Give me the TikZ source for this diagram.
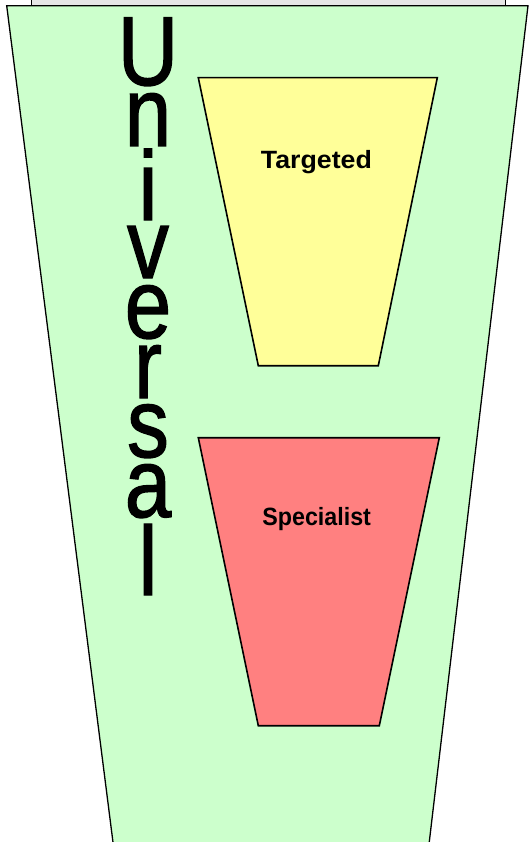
\documentclass[tikz,border=0pt]{standalone}
\usepackage{fontspec}
\setmainfont{Liberation Sans}
\font\univfont="Liberation Sans:embolden=1.5" at 98pt
\definecolor{framegray}{HTML}{E6E6E6}
\definecolor{mintgreen}{HTML}{CCFFCC}
\definecolor{paleyellow}{HTML}{FFFF99}
\definecolor{salmonred}{HTML}{FF8080}
\tikzset{
  letter/.style={anchor=base, font=\univfont},
  tierlabel/.style={anchor=base, font=\bfseries\fontsize{25}{25}\selectfont}
}

\begin{document}
\begin{tikzpicture}[x=1pt,y=1pt]
    \tikzstyle{every node}+=[inner sep=0pt]
    \useasboundingbox (0,0) rectangle (529,-842);
    \draw [black, fill=framegray] (30.7,8) rectangle (505,-5.5);
    \draw [black, line width=1.3pt, fill=mintgreen] (6.7,-5.7) -- (528,-5.7) -- (428.2,-851) -- (114.1,-851) -- cycle;
    \draw [black, line width=1.6pt, fill=paleyellow] (198.3,-77.7) -- (437.3,-77.7) -- (378.3,-365.7) -- (258.3,-365.7) -- cycle;
    \draw [black, line width=1.6pt, fill=salmonred] (198.3,-437.7) -- (439.3,-437.7) -- (379.3,-725.7) -- (258.3,-725.7) -- cycle;
    \node [tierlabel] (targeted) at (316.4,-168.3) {\scalebox{1.07}[1]{Targeted}};
    \node [tierlabel] (specialist) at (316.7,-525) {\scalebox{0.93}[1]{Specialist}};
    \foreach \ch/\yb [count=\k] in {U/85,n/146,i/220,v/278,e/338,r/398,s/457,a/517,l/595}
      \node [letter] (univ\k) at (148,-\yb) {\scalebox{0.85}[1]{\ch}};
\end{tikzpicture}
\end{document}
